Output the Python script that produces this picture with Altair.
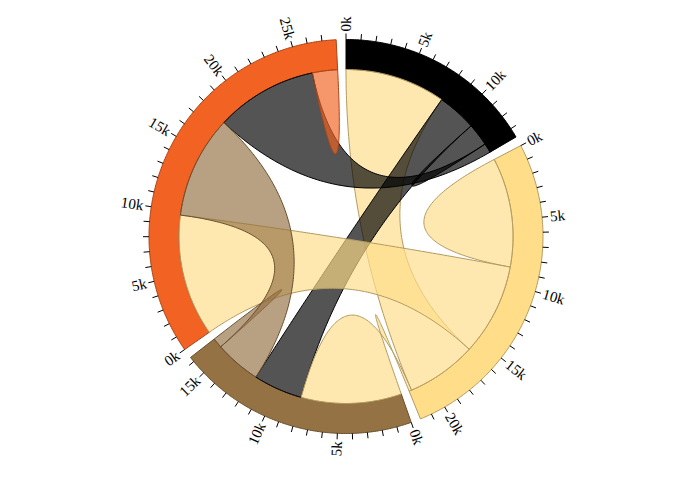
import math
import altair as alt
import pandas as pd

# ---- data (in units) ----
names = ["black", "blond", "brown", "red"]
colors = ["#000000", "#FFDD89", "#957244", "#F26223"]
row_black = [1800, 8000, 3100, 750]
row_blond = [5600, 8700, 200, 7300]
row_brown = [3900, 8000, 800, 3650]
row_red = [8100, 9700, 8150, 2000]
matrix = [row_black, row_blond, row_brown, row_red]
tick_step = 1000
label_step = 5000

# ---- layout ----
W, H = 692, 478
CX, CY = 346, 236.5
R_OUT, R_IN = 197, 167
PAD = 0.05
TAU = 2 * math.pi


def darker(hexc, k=0.7):
    r, g, b = (int(hexc[i:i + 2], 16) for i in (1, 3, 5))
    return "#%02x%02x%02x" % (round(r * k), round(g * k), round(b * k))


# ---- d3.chord layout (sortSubgroups descending) ----
n = len(matrix)
sums = [sum(r) for r in matrix]
k = (TAU - PAD * n) / sum(sums)
subgroups = {}
groups = []
x = 0.0
for i in range(n):
    x0 = x
    order = sorted(range(n), key=lambda j: -matrix[i][j])
    for j in order:
        v = matrix[i][j]
        a0 = x
        x += v * k
        subgroups[(i, j)] = dict(index=i, start=a0, end=x, value=v)
    groups.append(dict(index=i, start=x0, end=x, value=sums[i]))
    x += PAD

chords = []
for i in range(n):
    for j in range(i, n):
        s = subgroups[(i, j)]
        t = subgroups[(j, i)]
        if s["value"] < t["value"]:
            s, t = t, s
        chords.append((s, t))


def pt(r, a):
    return (r * math.sin(a), r * math.cos(a))


def arc_pts(r, a0, a1):
    m = max(2, int(abs(a1 - a0) * 180 / math.pi * 2) + 2)
    return [pt(r, a0 + (a1 - a0) * q / (m - 1)) for q in range(m)]


def quad_pts(p0, p2, m=90):
    out = []
    for q in range(m):
        t = q / (m - 1)
        out.append(((1 - t) ** 2 * p0[0] + t * t * p2[0], (1 - t) ** 2 * p0[1] + t * t * p2[1]))
    return out


xs = alt.Scale(domain=[-CX, W - CX], nice=False, zero=False)
ys = alt.Scale(domain=[-(H - CY), CY], nice=False, zero=False)


def poly_layer(pts, fill, stroke, fill_opacity=1.0):
    df = pd.DataFrame({"x": [p[0] for p in pts], "y": [p[1] for p in pts], "seq": list(range(len(pts)))})
    return alt.Chart(df).mark_line(fill=fill, stroke=stroke, fillOpacity=fill_opacity,
                                   strokeWidth=1, strokeJoin="miter").encode(
        x=alt.X("x:Q", scale=xs, axis=None),
        y=alt.Y("y:Q", scale=ys, axis=None),
        order=alt.Order("seq:Q"),
    )


layers = []
# group arcs
for g in groups:
    pts = arc_pts(R_OUT, g["start"], g["end"]) + arc_pts(R_IN, g["end"], g["start"])
    pts.append(pts[0])
    c = colors[g["index"]]
    layers.append(poly_layer(pts, c, darker(c)))

# ticks and labels
tick_rows, lab_rows = [], []
for g in groups:
    kk = (g["end"] - g["start"]) / g["value"]
    v = 0
    while v < g["value"]:
        a = v * kk + g["start"]
        p1, p2 = pt(R_OUT, a), pt(R_OUT + 6, a)
        tick_rows.append(dict(x=p1[0], y=p1[1], x2=p2[0], y2=p2[1]))
        if v % label_step == 0:
            deg = a * 180 / math.pi
            pl = pt(R_OUT + 8, a)
            flip = a > math.pi
            ang = (deg - 270) if flip else (deg - 90)
            lab_rows.append(dict(x=pl[0], y=pl[1], ang=ang % 360, label="%dk" % (v // 1000),
                                 flip=flip))
        v += tick_step

ticks = alt.Chart(pd.DataFrame(tick_rows)).mark_rule(color="#000000", strokeWidth=1).encode(
    x=alt.X("x:Q", scale=xs, axis=None), y=alt.Y("y:Q", scale=ys, axis=None), x2="x2:Q", y2="y2:Q")
layers.append(ticks)

labs = pd.DataFrame(lab_rows)
for flip, align in ((False, "left"), (True, "right")):
    sub = labs[labs["flip"] == flip].drop(columns=["flip"])
    layers.append(alt.Chart(sub).mark_text(align=align, baseline="middle", font="Liberation Serif",
                                           fontSize=15, color="#000000").encode(
        x=alt.X("x:Q", scale=xs, axis=None), y=alt.Y("y:Q", scale=ys, axis=None),
        angle=alt.Angle("ang:Q", scale=None), text="label:N"))

# ribbons
for s, t in chords:
    p_s0 = pt(R_IN, s["start"])
    pts = arc_pts(R_IN, s["start"], s["end"])
    if not (s["start"] == t["start"] and s["end"] == t["end"]):
        pts += quad_pts(pts[-1], pt(R_IN, t["start"]))
        pts += arc_pts(R_IN, t["start"], t["end"])
    pts += quad_pts(pts[-1], p_s0)
    c = colors[t["index"]]
    layers.append(poly_layer(pts, c, darker(c), 0.67))

chart = alt.layer(*layers).properties(
    width=W, height=H, padding=0, autosize=alt.AutoSizeParams(type="none")
).configure_view(stroke=None)

chart.save("out.html", embed_options={"renderer": "svg", "actions": False})
